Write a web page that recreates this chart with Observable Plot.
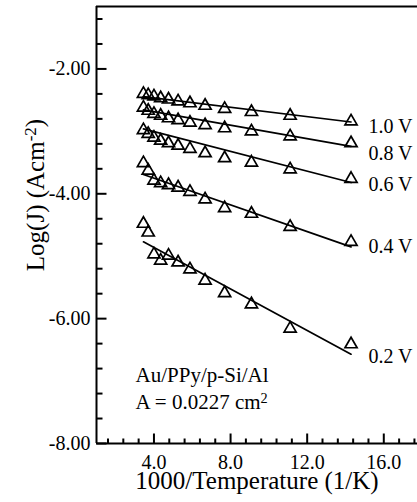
<!DOCTYPE html>
<html><head><meta charset="utf-8">
<script src="https://cdn.jsdelivr.net/npm/d3@7"></script>
<script src="https://cdn.jsdelivr.net/npm/@observablehq/plot@0.6"></script>
<style>body{margin:0;background:#fff}</style>
</head><body><div id="chart"></div>
<script>
// 1000/T values (1/K)
const invT = [3.45, 3.70, 4.00, 4.35, 4.76, 5.26, 5.88, 6.67, 7.69, 9.09, 11.11, 14.29];
const seriesNames = ["0.2 V", "0.4 V", "0.6 V", "0.8 V", "1.0 V"];
const logJ_02 = [-4.48, -4.62, -4.97, -5.07, -4.99, -5.10, -5.21, -5.39, -5.59, -5.77, -6.16, -6.41];
const logJ_04 = [-3.51, -3.63, -3.79, -3.83, -3.86, -3.90, -3.97, -4.09, -4.23, -4.32, -4.53, -4.77];
const logJ_06 = [-2.98, -3.04, -3.10, -3.15, -3.19, -3.23, -3.28, -3.35, -3.43, -3.50, -3.61, -3.76];
const logJ_08 = [-2.62, -2.67, -2.72, -2.75, -2.79, -2.82, -2.86, -2.90, -2.95, -3.00, -3.08, -3.19];
const logJ_10 = [-2.40, -2.42, -2.44, -2.47, -2.49, -2.52, -2.55, -2.59, -2.64, -2.69, -2.75, -2.84];
// fitted straight lines (start/end)
const fitX = [3.45, 14.29];
const fitStart = [-4.77, -3.69, -2.96, -2.655, -2.443];
const fitEnd = [-6.57, -4.85, -3.82, -3.24, -2.85];
// series label positions
const labelX = 15.2;
const labelY = [-6.61, -4.85, -3.86, -3.35, -2.92];
// axis ticks
const xMajor = [4, 8, 12, 16];
const xMinor = d3.range(1.6, 17.7, 0.8).map(v => +v.toFixed(1)).filter(v => !xMajor.includes(v));
const yMajor = [-8, -6, -4, -2];
const yMinor = d3.range(-7.6, -1.1, 0.4).map(v => +v.toFixed(1)).filter(v => !yMajor.includes(v));
const xTitle = "1000/Temperature (1/K)";
const yTitle = "Log(J) (Acm-2)";
const note1 = "Au/PPy/p-Si/Al";
const note2 = "A = 0.0227 cm2";

const allSeries = [logJ_02, logJ_04, logJ_06, logJ_08, logJ_10];
const points = [];
allSeries.forEach((arr, i) => arr.forEach((v, j) => points.push({s: seriesNames[i], x: invT[j], y: v})));
const fits = [];
seriesNames.forEach((s, i) => { fits.push({s, x: fitX[0], y: fitStart[i]}); fits.push({s, x: fitX[1], y: fitEnd[i]}); });
const labels = seriesNames.map((s, i) => ({s, x: labelX, y: labelY[i]}));

const W = 417, H = 502, mL = 96, mR = 0, mT = 6, mB = 59;
const pW = W - mL - mR, pH = H - mT - mB;
const xDom = [1, 17.76], yDom = [-8, -1];
const pxX = pW / (xDom[1] - xDom[0]);   // pixels per x unit
const pxY = pH / (yDom[1] - yDom[0]);   // pixels per y unit
const serif = "'Liberation Serif', 'Times New Roman', serif";

// tick segments (lengths in pixels converted to data units)
const yTickSegs = [...yMinor.map(v => ({v, len: 6})), ...yMajor.map(v => ({v, len: 10}))];
const xTickSegs = [...xMinor.map(v => ({v, len: 5})), ...xMajor.map(v => ({v, len: 10}))];

const chart = Plot.plot({
  width: W, height: H,
  marginLeft: mL, marginRight: mR, marginTop: mT, marginBottom: mB,
  x: {domain: xDom, label: null},
  y: {domain: yDom, label: null},
  style: {fontFamily: serif, fontSize: "20px", background: "white", color: "black", overflow: "visible"},
  marks: [
    Plot.axisX({ticks: xMajor, tickSize: 0, tickPadding: 11, tickFormat: d => d.toFixed(1), fontSize: 20, fontFamily: serif, fill: "black"}),
    Plot.axisY({ticks: yMajor, tickSize: 0, tickPadding: 6, tickFormat: d => d.toFixed(2), fontSize: 20, fontFamily: serif, fill: "black"}),
    Plot.line(fits, {x: "x", y: "y", z: "s", stroke: "black", strokeWidth: 1.7}),
    Plot.dot(points, {x: "x", y: "y", symbol: "triangle", r: 4.5, stroke: "black", strokeWidth: 1.7, fill: "none"}),
    Plot.text(labels, {x: "x", y: "y", text: "s", textAnchor: "start", fontSize: 20, fill: "black"}),
    Plot.text([note1], {x: 3.04, y: -6.91, textAnchor: "start", fontSize: 21, fill: "black"}),
    Plot.text([note2], {x: 3.04, y: -7.34, textAnchor: "start", fontSize: 21, fill: "black"}),
    Plot.text([xTitle], {frameAnchor: "bottom", dy: 45, fontSize: 25, fill: "black"}),
    Plot.text([yTitle], {frameAnchor: "left", textAnchor: "middle", lineAnchor: "middle", dx: -61, dy: -30, rotate: -90, fontSize: 25, fill: "black"}),
    // inward ticks
    Plot.link(yTickSegs, {x1: xDom[0], x2: d => xDom[0] + d.len / pxX, y1: "v", y2: "v", stroke: "black", strokeWidth: 2}),
    Plot.link(xTickSegs, {x1: "v", x2: "v", y1: yDom[0], y2: d => yDom[0] + d.len / pxY, stroke: "black", strokeWidth: 2}),
    // frame (left, top, bottom)
    Plot.ruleX([xDom[0]], {stroke: "black", strokeWidth: 2}),
    Plot.ruleY(yDom, {stroke: "black", strokeWidth: 2})
  ]
});
document.getElementById("chart").appendChild(chart);

// superscripts
function superscript(full, base, sup, tail) {
  d3.select(chart).selectAll("text").filter(function() { return this.textContent === full; }).each(function() {
    const t = d3.select(this);
    t.text(null);
    t.append("tspan").text(base);
    t.append("tspan").attr("dy", "-0.45em").attr("font-size", "0.68em").text(sup);
    if (tail) t.append("tspan").attr("dy", "0.3em").text(tail);
  });
}
superscript(yTitle, "Log(J) (Acm", "-2", ")");
superscript(note2, "A = 0.0227 cm", "2", "");
</script></body></html>
